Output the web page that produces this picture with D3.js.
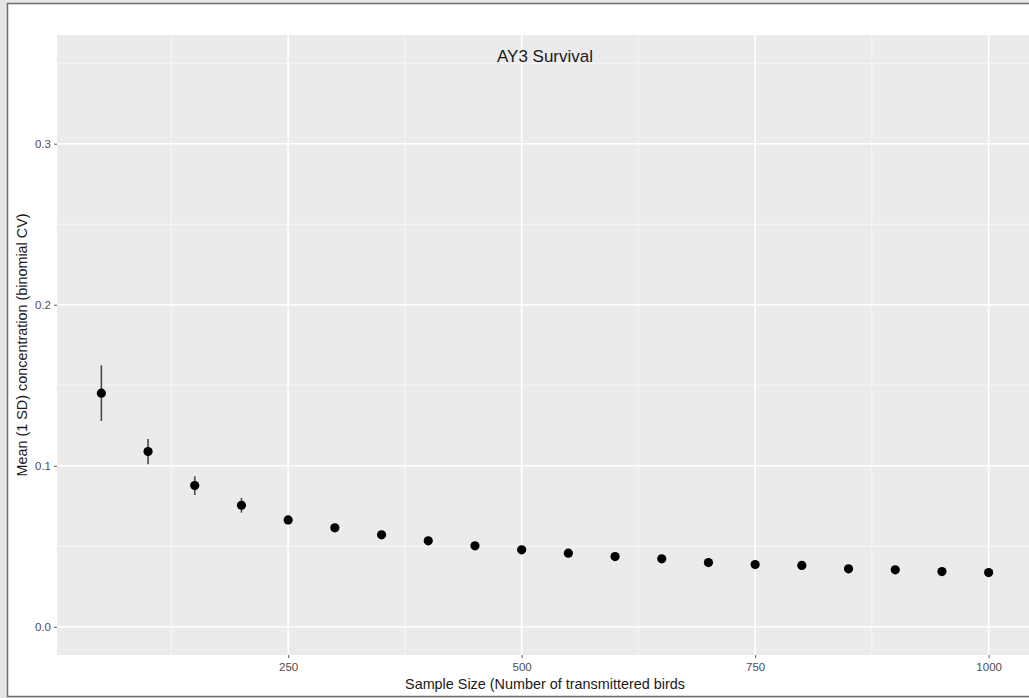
<!DOCTYPE html>
<html>
<head>
<meta charset="utf-8">
<script src="https://cdn.jsdelivr.net/npm/d3@7"></script>
<style>
  html, body { margin: 0; padding: 0; background: #e6e6e6; }
  svg { display: block; }
  text { font-family: "Liberation Sans", Arial, sans-serif; }
</style>
</head>
<body>
<svg id="chart" width="1029" height="698"></svg>
<script>
// ---- data ----
const sampleSizes = [50, 100, 150, 200, 250, 300, 350, 400, 450, 500, 550, 600, 650, 700, 750, 800, 850, 900, 950, 1000];
const meanCV = [0.1451, 0.1088, 0.0877, 0.0755, 0.0664, 0.0615, 0.0571, 0.0534, 0.0503, 0.0478, 0.0457, 0.0436, 0.0422, 0.0399, 0.0387, 0.0381, 0.0360, 0.0354, 0.0343, 0.0337];
const sdCV = [0.0173, 0.0078, 0.0058, 0.0046, 0.0025, 0.0020, 0.0018, 0.0016, 0.0014, 0.0013, 0.0012, 0.0011, 0.0010, 0.0010, 0.0009, 0.0009, 0.0008, 0.0008, 0.0008, 0.0007];
const xTicks = [250, 500, 750, 1000];
const xMinorTicks = [125, 375, 625, 875];
const yTicks = [0, 0.1, 0.2, 0.3];
const yMinorTicks = [0.05, 0.15, 0.25, 0.35];
const titleText = "AY3 Survival";
const xTitle = "Sample Size (Number of transmittered birds";
const yTitle = "Mean (1 SD) concentration (binomial CV)";

const svg = d3.select("#chart");

// outer frame (screenshot border)
svg.append("rect").attr("x", 0).attr("y", 0).attr("width", 1029).attr("height", 698).attr("fill", "#e6e6e6");
svg.append("rect").attr("x", 7.5).attr("y", 3.5).attr("width", 1030).attr("height", 693)
  .attr("fill", "#ffffff").attr("stroke", "#6e6e6e").attr("stroke-width", 1.5);

const panel = { left: 57, right: 1033, top: 35, bottom: 655 };

const x = d3.scaleLinear().domain([2.5, 1047.5]).range([panel.left, panel.right]);
const y = d3.scaleLinear().domain([-0.0175, 0.3675]).range([panel.bottom, panel.top]);

// panel background
svg.append("rect")
  .attr("x", panel.left).attr("y", panel.top)
  .attr("width", panel.right - panel.left).attr("height", panel.bottom - panel.top)
  .attr("fill", "#ebebeb");

const grid = svg.append("g");
// minor grid
grid.selectAll(".hmin").data(yMinorTicks).join("line")
  .attr("x1", panel.left).attr("x2", panel.right)
  .attr("y1", d => y(d)).attr("y2", d => y(d))
  .attr("stroke", "#f7f7f7").attr("stroke-width", 1);
grid.selectAll(".vmin").data(xMinorTicks).join("line")
  .attr("y1", panel.top).attr("y2", panel.bottom)
  .attr("x1", d => x(d)).attr("x2", d => x(d))
  .attr("stroke", "#f7f7f7").attr("stroke-width", 1);
// major grid
grid.selectAll(".hmaj").data(yTicks).join("line")
  .attr("x1", panel.left).attr("x2", panel.right)
  .attr("y1", d => y(d)).attr("y2", d => y(d))
  .attr("stroke", "#ffffff").attr("stroke-width", 1.6);
grid.selectAll(".vmaj").data(xTicks).join("line")
  .attr("y1", panel.top).attr("y2", panel.bottom)
  .attr("x1", d => x(d)).attr("x2", d => x(d))
  .attr("stroke", "#ffffff").attr("stroke-width", 1.6);

// error bars
const data = sampleSizes.map((n, i) => ({ n, m: meanCV[i], s: sdCV[i] }));
svg.append("g").selectAll("line").data(data).join("line")
  .attr("x1", d => x(d.n)).attr("x2", d => x(d.n))
  .attr("y1", d => y(d.m - d.s)).attr("y2", d => y(d.m + d.s))
  .attr("stroke", "#4a4a4a").attr("stroke-width", 1.6);

// points
svg.append("g").selectAll("circle").data(data).join("circle")
  .attr("cx", d => x(d.n)).attr("cy", d => y(d.m))
  .attr("r", 4.6).attr("fill", "#000000");

// axes
const xAxis = svg.append("g").attr("transform", `translate(0,${panel.bottom})`)
  .call(d3.axisBottom(x).tickValues(xTicks).tickSize(3).tickPadding(5).tickFormat(d3.format("d")));
const yAxis = svg.append("g").attr("transform", `translate(${panel.left},0)`)
  .call(d3.axisLeft(y).tickValues(yTicks).tickSize(3).tickPadding(3).tickFormat(d3.format(".1f")));
[xAxis, yAxis].forEach(a => {
  a.select(".domain").remove();
  a.selectAll(".tick line").attr("stroke", "#666666").attr("stroke-width", 1.1);
  a.selectAll(".tick text").attr("fill", "#4d4d4d").style("font-size", "11.5px")
    .style("font-family", "'Liberation Sans', Arial, sans-serif");
});

// title inside panel
svg.append("text")
  .attr("x", (panel.left + panel.right) / 2).attr("y", 62)
  .attr("text-anchor", "middle")
  .attr("fill", "#1a1a1a").style("font-size", "17px")
  .text(titleText);

// axis titles
svg.append("text")
  .attr("x", (panel.left + panel.right) / 2).attr("y", 689)
  .attr("text-anchor", "middle")
  .attr("fill", "#1a1a1a").style("font-size", "14.4px")
  .text(xTitle);

svg.append("text")
  .attr("transform", `translate(27,${(panel.top + panel.bottom) / 2}) rotate(-90)`)
  .attr("text-anchor", "middle")
  .attr("fill", "#1a1a1a").style("font-size", "14.4px")
  .text(yTitle);
</script>
</body>
</html>
